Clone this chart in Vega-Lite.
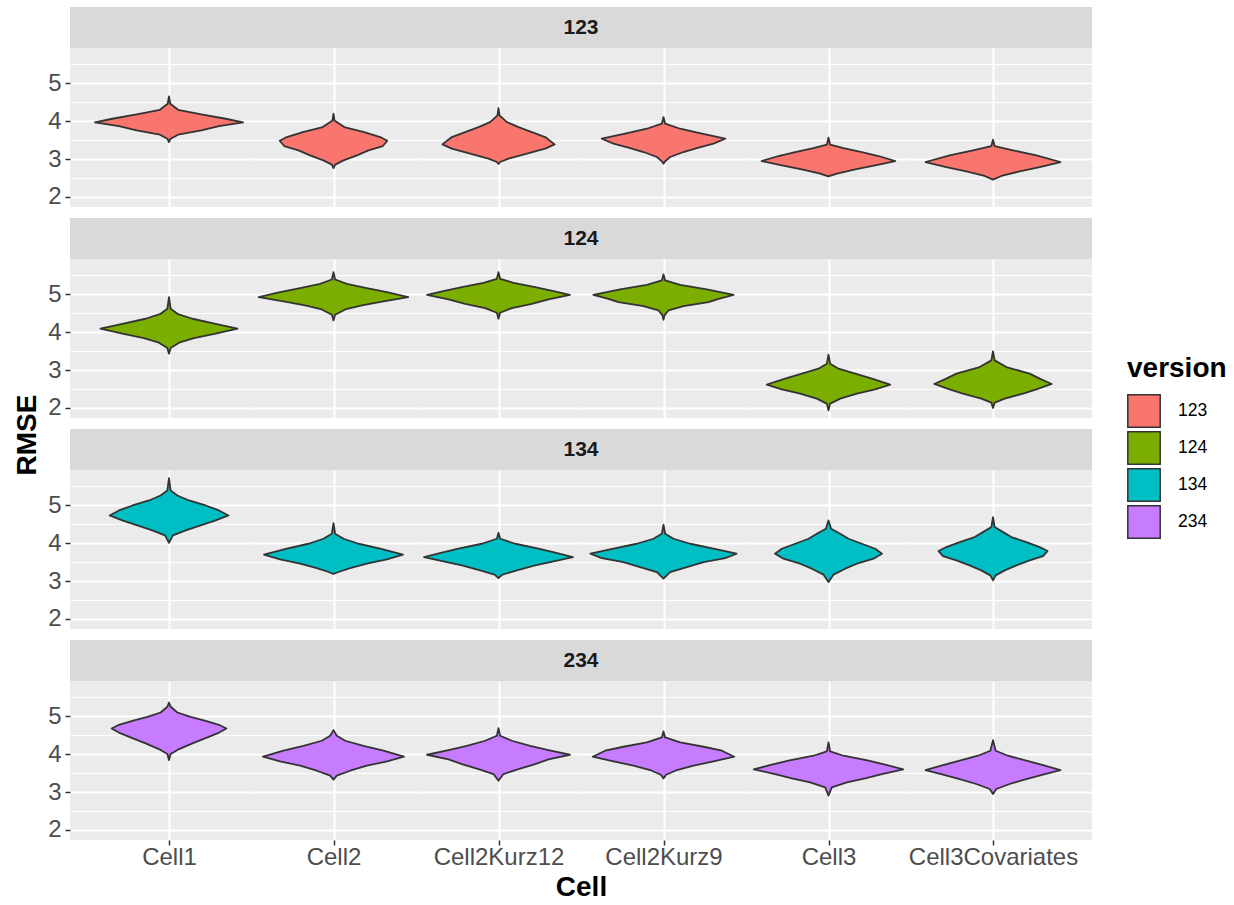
{
"$schema": "https://vega.github.io/schema/vega-lite/v6.json",
"background": "white",
"padding": {"left": 13, "top": 7, "right": 0, "bottom": 0},
"title": {"text": "RMSE", "orient": "left", "anchor": "middle", "fontSize": 28, "fontWeight": "bold", "color": "black", "offset": 6, "dx": 19},
"datasets": {
"strips": [{"version":"123"},{"version":"124"},{"version":"134"},{"version":"234"}],
"violins": [
{"version":"123","Cell":"Cell1","RMSE":4.649,"lo":0,"hi":0},
{"version":"123","Cell":"Cell1","RMSE":4.456,"lo":-0.008,"hi":0.008},
{"version":"123","Cell":"Cell1","RMSE":4.298,"lo":-0.055,"hi":0.055},
{"version":"123","Cell":"Cell1","RMSE":4.175,"lo":-0.196,"hi":0.196},
{"version":"123","Cell":"Cell1","RMSE":4.061,"lo":-0.344,"hi":0.344},
{"version":"123","Cell":"Cell1","RMSE":3.965,"lo":-0.449,"hi":0.449},
{"version":"123","Cell":"Cell1","RMSE":3.868,"lo":-0.303,"hi":0.303},
{"version":"123","Cell":"Cell1","RMSE":3.754,"lo":-0.196,"hi":0.196},
{"version":"123","Cell":"Cell1","RMSE":3.640,"lo":-0.055,"hi":0.055},
{"version":"123","Cell":"Cell1","RMSE":3.535,"lo":-0.010,"hi":0.010},
{"version":"123","Cell":"Cell1","RMSE":3.447,"lo":0,"hi":0},
{"version":"123","Cell":"Cell2","RMSE":4.193,"lo":0,"hi":0},
{"version":"123","Cell":"Cell2","RMSE":4.018,"lo":-0.006,"hi":0.006},
{"version":"123","Cell":"Cell2","RMSE":3.842,"lo":-0.065,"hi":0.065},
{"version":"123","Cell":"Cell2","RMSE":3.711,"lo":-0.186,"hi":0.186},
{"version":"123","Cell":"Cell2","RMSE":3.579,"lo":-0.283,"hi":0.283},
{"version":"123","Cell":"Cell2","RMSE":3.482,"lo":-0.326,"hi":0.326},
{"version":"123","Cell":"Cell2","RMSE":3.342,"lo":-0.299,"hi":0.299},
{"version":"123","Cell":"Cell2","RMSE":3.228,"lo":-0.212,"hi":0.212},
{"version":"123","Cell":"Cell2","RMSE":3.096,"lo":-0.142,"hi":0.142},
{"version":"123","Cell":"Cell2","RMSE":2.965,"lo":-0.061,"hi":0.061},
{"version":"123","Cell":"Cell2","RMSE":2.851,"lo":-0.010,"hi":0.010},
{"version":"123","Cell":"Cell2","RMSE":2.763,"lo":0,"hi":0},
{"version":"123","Cell":"Cell2Kurz12","RMSE":4.342,"lo":0,"hi":0},
{"version":"123","Cell":"Cell2Kurz12","RMSE":4.149,"lo":-0.006,"hi":0.006},
{"version":"123","Cell":"Cell2Kurz12","RMSE":3.974,"lo":-0.051,"hi":0.051},
{"version":"123","Cell":"Cell2Kurz12","RMSE":3.842,"lo":-0.121,"hi":0.121},
{"version":"123","Cell":"Cell2Kurz12","RMSE":3.711,"lo":-0.202,"hi":0.202},
{"version":"123","Cell":"Cell2Kurz12","RMSE":3.579,"lo":-0.283,"hi":0.283},
{"version":"123","Cell":"Cell2Kurz12","RMSE":3.386,"lo":-0.340,"hi":0.340},
{"version":"123","Cell":"Cell2Kurz12","RMSE":3.272,"lo":-0.283,"hi":0.283},
{"version":"123","Cell":"Cell2Kurz12","RMSE":3.140,"lo":-0.172,"hi":0.172},
{"version":"123","Cell":"Cell2Kurz12","RMSE":3.009,"lo":-0.061,"hi":0.061},
{"version":"123","Cell":"Cell2Kurz12","RMSE":2.921,"lo":-0.010,"hi":0.010},
{"version":"123","Cell":"Cell2Kurz12","RMSE":2.868,"lo":0,"hi":0},
{"version":"123","Cell":"Cell2Kurz9","RMSE":4.105,"lo":0,"hi":0},
{"version":"123","Cell":"Cell2Kurz9","RMSE":3.930,"lo":-0.010,"hi":0.010},
{"version":"123","Cell":"Cell2Kurz9","RMSE":3.798,"lo":-0.101,"hi":0.101},
{"version":"123","Cell":"Cell2Kurz9","RMSE":3.667,"lo":-0.233,"hi":0.233},
{"version":"123","Cell":"Cell2Kurz9","RMSE":3.535,"lo":-0.374,"hi":0.374},
{"version":"123","Cell":"Cell2Kurz9","RMSE":3.404,"lo":-0.303,"hi":0.303},
{"version":"123","Cell":"Cell2Kurz9","RMSE":3.289,"lo":-0.202,"hi":0.202},
{"version":"123","Cell":"Cell2Kurz9","RMSE":3.184,"lo":-0.121,"hi":0.121},
{"version":"123","Cell":"Cell2Kurz9","RMSE":3.053,"lo":-0.040,"hi":0.040},
{"version":"123","Cell":"Cell2Kurz9","RMSE":2.939,"lo":-0.010,"hi":0.010},
{"version":"123","Cell":"Cell2Kurz9","RMSE":2.877,"lo":0,"hi":0},
{"version":"123","Cell":"Cell3","RMSE":3.561,"lo":0,"hi":0},
{"version":"123","Cell":"Cell3","RMSE":3.377,"lo":-0.010,"hi":0.010},
{"version":"123","Cell":"Cell3","RMSE":3.289,"lo":-0.091,"hi":0.091},
{"version":"123","Cell":"Cell3","RMSE":3.184,"lo":-0.202,"hi":0.202},
{"version":"123","Cell":"Cell3","RMSE":3.079,"lo":-0.303,"hi":0.303},
{"version":"123","Cell":"Cell3","RMSE":2.947,"lo":-0.405,"hi":0.405},
{"version":"123","Cell":"Cell3","RMSE":2.833,"lo":-0.283,"hi":0.283},
{"version":"123","Cell":"Cell3","RMSE":2.728,"lo":-0.162,"hi":0.162},
{"version":"123","Cell":"Cell3","RMSE":2.614,"lo":-0.051,"hi":0.051},
{"version":"123","Cell":"Cell3","RMSE":2.544,"lo":0,"hi":0},
{"version":"123","Cell":"Cell3Covariates","RMSE":3.509,"lo":0,"hi":0},
{"version":"123","Cell":"Cell3Covariates","RMSE":3.342,"lo":-0.010,"hi":0.010},
{"version":"123","Cell":"Cell3Covariates","RMSE":3.228,"lo":-0.121,"hi":0.121},
{"version":"123","Cell":"Cell3Covariates","RMSE":3.096,"lo":-0.263,"hi":0.263},
{"version":"123","Cell":"Cell3Covariates","RMSE":2.921,"lo":-0.409,"hi":0.409},
{"version":"123","Cell":"Cell3Covariates","RMSE":2.789,"lo":-0.283,"hi":0.283},
{"version":"123","Cell":"Cell3Covariates","RMSE":2.675,"lo":-0.162,"hi":0.162},
{"version":"123","Cell":"Cell3Covariates","RMSE":2.553,"lo":-0.051,"hi":0.051},
{"version":"123","Cell":"Cell3Covariates","RMSE":2.456,"lo":0,"hi":0},
{"version":"124","Cell":"Cell1","RMSE":4.921,"lo":0,"hi":0},
{"version":"124","Cell":"Cell1","RMSE":4.614,"lo":-0.010,"hi":0.010},
{"version":"124","Cell":"Cell1","RMSE":4.482,"lo":-0.051,"hi":0.051},
{"version":"124","Cell":"Cell1","RMSE":4.351,"lo":-0.142,"hi":0.142},
{"version":"124","Cell":"Cell1","RMSE":4.219,"lo":-0.283,"hi":0.283},
{"version":"124","Cell":"Cell1","RMSE":4.088,"lo":-0.415,"hi":0.415},
{"version":"124","Cell":"Cell1","RMSE":3.956,"lo":-0.283,"hi":0.283},
{"version":"124","Cell":"Cell1","RMSE":3.842,"lo":-0.152,"hi":0.152},
{"version":"124","Cell":"Cell1","RMSE":3.719,"lo":-0.061,"hi":0.061},
{"version":"124","Cell":"Cell1","RMSE":3.579,"lo":-0.010,"hi":0.010},
{"version":"124","Cell":"Cell1","RMSE":3.430,"lo":0,"hi":0},
{"version":"124","Cell":"Cell2","RMSE":5.579,"lo":0,"hi":0},
{"version":"124","Cell":"Cell2","RMSE":5.386,"lo":-0.010,"hi":0.010},
{"version":"124","Cell":"Cell2","RMSE":5.272,"lo":-0.081,"hi":0.081},
{"version":"124","Cell":"Cell2","RMSE":5.158,"lo":-0.202,"hi":0.202},
{"version":"124","Cell":"Cell2","RMSE":5.053,"lo":-0.324,"hi":0.324},
{"version":"124","Cell":"Cell2","RMSE":4.921,"lo":-0.453,"hi":0.453},
{"version":"124","Cell":"Cell2","RMSE":4.807,"lo":-0.303,"hi":0.303},
{"version":"124","Cell":"Cell2","RMSE":4.702,"lo":-0.172,"hi":0.172},
{"version":"124","Cell":"Cell2","RMSE":4.596,"lo":-0.071,"hi":0.071},
{"version":"124","Cell":"Cell2","RMSE":4.456,"lo":-0.010,"hi":0.010},
{"version":"124","Cell":"Cell2","RMSE":4.307,"lo":0,"hi":0},
{"version":"124","Cell":"Cell2Kurz12","RMSE":5.579,"lo":0,"hi":0},
{"version":"124","Cell":"Cell2Kurz12","RMSE":5.404,"lo":-0.010,"hi":0.010},
{"version":"124","Cell":"Cell2Kurz12","RMSE":5.298,"lo":-0.091,"hi":0.091},
{"version":"124","Cell":"Cell2Kurz12","RMSE":5.184,"lo":-0.222,"hi":0.222},
{"version":"124","Cell":"Cell2Kurz12","RMSE":5.079,"lo":-0.334,"hi":0.334},
{"version":"124","Cell":"Cell2Kurz12","RMSE":4.982,"lo":-0.433,"hi":0.433},
{"version":"124","Cell":"Cell2Kurz12","RMSE":4.860,"lo":-0.303,"hi":0.303},
{"version":"124","Cell":"Cell2Kurz12","RMSE":4.746,"lo":-0.202,"hi":0.202},
{"version":"124","Cell":"Cell2Kurz12","RMSE":4.632,"lo":-0.081,"hi":0.081},
{"version":"124","Cell":"Cell2Kurz12","RMSE":4.509,"lo":-0.010,"hi":0.010},
{"version":"124","Cell":"Cell2Kurz12","RMSE":4.351,"lo":0,"hi":0},
{"version":"124","Cell":"Cell2Kurz9","RMSE":5.518,"lo":0,"hi":0},
{"version":"124","Cell":"Cell2Kurz9","RMSE":5.360,"lo":-0.010,"hi":0.010},
{"version":"124","Cell":"Cell2Kurz9","RMSE":5.246,"lo":-0.101,"hi":0.101},
{"version":"124","Cell":"Cell2Kurz9","RMSE":5.123,"lo":-0.263,"hi":0.263},
{"version":"124","Cell":"Cell2Kurz9","RMSE":4.982,"lo":-0.425,"hi":0.425},
{"version":"124","Cell":"Cell2Kurz9","RMSE":4.877,"lo":-0.334,"hi":0.334},
{"version":"124","Cell":"Cell2Kurz9","RMSE":4.789,"lo":-0.273,"hi":0.273},
{"version":"124","Cell":"Cell2Kurz9","RMSE":4.684,"lo":-0.121,"hi":0.121},
{"version":"124","Cell":"Cell2Kurz9","RMSE":4.570,"lo":-0.030,"hi":0.030},
{"version":"124","Cell":"Cell2Kurz9","RMSE":4.439,"lo":-0.006,"hi":0.006},
{"version":"124","Cell":"Cell2Kurz9","RMSE":4.325,"lo":0,"hi":0},
{"version":"124","Cell":"Cell3","RMSE":3.404,"lo":0,"hi":0},
{"version":"124","Cell":"Cell3","RMSE":3.167,"lo":-0.010,"hi":0.010},
{"version":"124","Cell":"Cell3","RMSE":3.035,"lo":-0.061,"hi":0.061},
{"version":"124","Cell":"Cell3","RMSE":2.904,"lo":-0.162,"hi":0.162},
{"version":"124","Cell":"Cell3","RMSE":2.772,"lo":-0.263,"hi":0.263},
{"version":"124","Cell":"Cell3","RMSE":2.614,"lo":-0.374,"hi":0.374},
{"version":"124","Cell":"Cell3","RMSE":2.491,"lo":-0.283,"hi":0.283},
{"version":"124","Cell":"Cell3","RMSE":2.377,"lo":-0.172,"hi":0.172},
{"version":"124","Cell":"Cell3","RMSE":2.246,"lo":-0.071,"hi":0.071},
{"version":"124","Cell":"Cell3","RMSE":2.114,"lo":-0.010,"hi":0.010},
{"version":"124","Cell":"Cell3","RMSE":1.939,"lo":0,"hi":0},
{"version":"124","Cell":"Cell3Covariates","RMSE":3.491,"lo":0,"hi":0},
{"version":"124","Cell":"Cell3Covariates","RMSE":3.254,"lo":-0.010,"hi":0.010},
{"version":"124","Cell":"Cell3Covariates","RMSE":3.079,"lo":-0.081,"hi":0.081},
{"version":"124","Cell":"Cell3Covariates","RMSE":2.904,"lo":-0.222,"hi":0.222},
{"version":"124","Cell":"Cell3Covariates","RMSE":2.772,"lo":-0.283,"hi":0.283},
{"version":"124","Cell":"Cell3Covariates","RMSE":2.632,"lo":-0.356,"hi":0.356},
{"version":"124","Cell":"Cell3Covariates","RMSE":2.491,"lo":-0.263,"hi":0.263},
{"version":"124","Cell":"Cell3Covariates","RMSE":2.377,"lo":-0.182,"hi":0.182},
{"version":"124","Cell":"Cell3Covariates","RMSE":2.246,"lo":-0.071,"hi":0.071},
{"version":"124","Cell":"Cell3Covariates","RMSE":2.140,"lo":-0.010,"hi":0.010},
{"version":"124","Cell":"Cell3Covariates","RMSE":2.000,"lo":0,"hi":0},
{"version":"134","Cell":"Cell1","RMSE":5.711,"lo":0,"hi":0},
{"version":"134","Cell":"Cell1","RMSE":5.386,"lo":-0.010,"hi":0.010},
{"version":"134","Cell":"Cell1","RMSE":5.254,"lo":-0.051,"hi":0.051},
{"version":"134","Cell":"Cell1","RMSE":5.123,"lo":-0.121,"hi":0.121},
{"version":"134","Cell":"Cell1","RMSE":4.991,"lo":-0.222,"hi":0.222},
{"version":"134","Cell":"Cell1","RMSE":4.860,"lo":-0.303,"hi":0.303},
{"version":"134","Cell":"Cell1","RMSE":4.728,"lo":-0.360,"hi":0.360},
{"version":"134","Cell":"Cell1","RMSE":4.596,"lo":-0.283,"hi":0.283},
{"version":"134","Cell":"Cell1","RMSE":4.465,"lo":-0.192,"hi":0.192},
{"version":"134","Cell":"Cell1","RMSE":4.333,"lo":-0.101,"hi":0.101},
{"version":"134","Cell":"Cell1","RMSE":4.202,"lo":-0.024,"hi":0.024},
{"version":"134","Cell":"Cell1","RMSE":4.009,"lo":0,"hi":0},
{"version":"134","Cell":"Cell2","RMSE":4.526,"lo":0,"hi":0},
{"version":"134","Cell":"Cell2","RMSE":4.246,"lo":-0.010,"hi":0.010},
{"version":"134","Cell":"Cell2","RMSE":4.114,"lo":-0.061,"hi":0.061},
{"version":"134","Cell":"Cell2","RMSE":3.982,"lo":-0.152,"hi":0.152},
{"version":"134","Cell":"Cell2","RMSE":3.851,"lo":-0.283,"hi":0.283},
{"version":"134","Cell":"Cell2","RMSE":3.693,"lo":-0.421,"hi":0.421},
{"version":"134","Cell":"Cell2","RMSE":3.570,"lo":-0.324,"hi":0.324},
{"version":"134","Cell":"Cell2","RMSE":3.456,"lo":-0.202,"hi":0.202},
{"version":"134","Cell":"Cell2","RMSE":3.342,"lo":-0.101,"hi":0.101},
{"version":"134","Cell":"Cell2","RMSE":3.237,"lo":-0.030,"hi":0.030},
{"version":"134","Cell":"Cell2","RMSE":3.184,"lo":0,"hi":0},
{"version":"134","Cell":"Cell2Kurz12","RMSE":4.272,"lo":0,"hi":0},
{"version":"134","Cell":"Cell2Kurz12","RMSE":4.114,"lo":-0.010,"hi":0.010},
{"version":"134","Cell":"Cell2Kurz12","RMSE":3.982,"lo":-0.101,"hi":0.101},
{"version":"134","Cell":"Cell2Kurz12","RMSE":3.851,"lo":-0.243,"hi":0.243},
{"version":"134","Cell":"Cell2Kurz12","RMSE":3.746,"lo":-0.344,"hi":0.344},
{"version":"134","Cell":"Cell2Kurz12","RMSE":3.632,"lo":-0.451,"hi":0.451},
{"version":"134","Cell":"Cell2Kurz12","RMSE":3.518,"lo":-0.334,"hi":0.334},
{"version":"134","Cell":"Cell2Kurz12","RMSE":3.412,"lo":-0.222,"hi":0.222},
{"version":"134","Cell":"Cell2Kurz12","RMSE":3.281,"lo":-0.111,"hi":0.111},
{"version":"134","Cell":"Cell2Kurz12","RMSE":3.167,"lo":-0.024,"hi":0.024},
{"version":"134","Cell":"Cell2Kurz12","RMSE":3.079,"lo":0,"hi":0},
{"version":"134","Cell":"Cell2Kurz9","RMSE":4.482,"lo":0,"hi":0},
{"version":"134","Cell":"Cell2Kurz9","RMSE":4.246,"lo":-0.010,"hi":0.010},
{"version":"134","Cell":"Cell2Kurz9","RMSE":4.114,"lo":-0.061,"hi":0.061},
{"version":"134","Cell":"Cell2Kurz9","RMSE":3.982,"lo":-0.162,"hi":0.162},
{"version":"134","Cell":"Cell2Kurz9","RMSE":3.851,"lo":-0.303,"hi":0.303},
{"version":"134","Cell":"Cell2Kurz9","RMSE":3.719,"lo":-0.443,"hi":0.443},
{"version":"134","Cell":"Cell2Kurz9","RMSE":3.605,"lo":-0.374,"hi":0.374},
{"version":"134","Cell":"Cell2Kurz9","RMSE":3.500,"lo":-0.243,"hi":0.243},
{"version":"134","Cell":"Cell2Kurz9","RMSE":3.368,"lo":-0.142,"hi":0.142},
{"version":"134","Cell":"Cell2Kurz9","RMSE":3.237,"lo":-0.040,"hi":0.040},
{"version":"134","Cell":"Cell2Kurz9","RMSE":3.061,"lo":0,"hi":0},
{"version":"134","Cell":"Cell3","RMSE":4.596,"lo":0,"hi":0},
{"version":"134","Cell":"Cell3","RMSE":4.377,"lo":-0.016,"hi":0.016},
{"version":"134","Cell":"Cell3","RMSE":4.246,"lo":-0.071,"hi":0.071},
{"version":"134","Cell":"Cell3","RMSE":4.114,"lo":-0.121,"hi":0.121},
{"version":"134","Cell":"Cell3","RMSE":3.982,"lo":-0.202,"hi":0.202},
{"version":"134","Cell":"Cell3","RMSE":3.851,"lo":-0.283,"hi":0.283},
{"version":"134","Cell":"Cell3","RMSE":3.719,"lo":-0.324,"hi":0.324},
{"version":"134","Cell":"Cell3","RMSE":3.588,"lo":-0.273,"hi":0.273},
{"version":"134","Cell":"Cell3","RMSE":3.456,"lo":-0.172,"hi":0.172},
{"version":"134","Cell":"Cell3","RMSE":3.325,"lo":-0.101,"hi":0.101},
{"version":"134","Cell":"Cell3","RMSE":3.167,"lo":-0.030,"hi":0.030},
{"version":"134","Cell":"Cell3","RMSE":2.974,"lo":0,"hi":0},
{"version":"134","Cell":"Cell3Covariates","RMSE":4.684,"lo":0,"hi":0},
{"version":"134","Cell":"Cell3Covariates","RMSE":4.421,"lo":-0.010,"hi":0.010},
{"version":"134","Cell":"Cell3Covariates","RMSE":4.289,"lo":-0.061,"hi":0.061},
{"version":"134","Cell":"Cell3Covariates","RMSE":4.158,"lo":-0.111,"hi":0.111},
{"version":"134","Cell":"Cell3Covariates","RMSE":4.026,"lo":-0.202,"hi":0.202},
{"version":"134","Cell":"Cell3Covariates","RMSE":3.895,"lo":-0.283,"hi":0.283},
{"version":"134","Cell":"Cell3Covariates","RMSE":3.789,"lo":-0.330,"hi":0.330},
{"version":"134","Cell":"Cell3Covariates","RMSE":3.658,"lo":-0.303,"hi":0.303},
{"version":"134","Cell":"Cell3Covariates","RMSE":3.544,"lo":-0.222,"hi":0.222},
{"version":"134","Cell":"Cell3Covariates","RMSE":3.412,"lo":-0.142,"hi":0.142},
{"version":"134","Cell":"Cell3Covariates","RMSE":3.281,"lo":-0.071,"hi":0.071},
{"version":"134","Cell":"Cell3Covariates","RMSE":3.149,"lo":-0.016,"hi":0.016},
{"version":"134","Cell":"Cell3Covariates","RMSE":3.018,"lo":0,"hi":0},
{"version":"234","Cell":"Cell1","RMSE":5.360,"lo":0,"hi":0},
{"version":"234","Cell":"Cell1","RMSE":5.246,"lo":-0.010,"hi":0.010},
{"version":"234","Cell":"Cell1","RMSE":5.096,"lo":-0.051,"hi":0.051},
{"version":"234","Cell":"Cell1","RMSE":4.982,"lo":-0.131,"hi":0.131},
{"version":"234","Cell":"Cell1","RMSE":4.877,"lo":-0.222,"hi":0.222},
{"version":"234","Cell":"Cell1","RMSE":4.772,"lo":-0.303,"hi":0.303},
{"version":"234","Cell":"Cell1","RMSE":4.675,"lo":-0.348,"hi":0.348},
{"version":"234","Cell":"Cell1","RMSE":4.544,"lo":-0.293,"hi":0.293},
{"version":"234","Cell":"Cell1","RMSE":4.421,"lo":-0.222,"hi":0.222},
{"version":"234","Cell":"Cell1","RMSE":4.281,"lo":-0.142,"hi":0.142},
{"version":"234","Cell":"Cell1","RMSE":4.132,"lo":-0.061,"hi":0.061},
{"version":"234","Cell":"Cell1","RMSE":4.000,"lo":-0.010,"hi":0.010},
{"version":"234","Cell":"Cell1","RMSE":3.842,"lo":0,"hi":0},
{"version":"234","Cell":"Cell2","RMSE":4.632,"lo":0,"hi":0},
{"version":"234","Cell":"Cell2","RMSE":4.482,"lo":-0.020,"hi":0.020},
{"version":"234","Cell":"Cell2","RMSE":4.351,"lo":-0.071,"hi":0.071},
{"version":"234","Cell":"Cell2","RMSE":4.219,"lo":-0.182,"hi":0.182},
{"version":"234","Cell":"Cell2","RMSE":4.088,"lo":-0.303,"hi":0.303},
{"version":"234","Cell":"Cell2","RMSE":3.930,"lo":-0.427,"hi":0.427},
{"version":"234","Cell":"Cell2","RMSE":3.807,"lo":-0.324,"hi":0.324},
{"version":"234","Cell":"Cell2","RMSE":3.693,"lo":-0.202,"hi":0.202},
{"version":"234","Cell":"Cell2","RMSE":3.561,"lo":-0.101,"hi":0.101},
{"version":"234","Cell":"Cell2","RMSE":3.430,"lo":-0.020,"hi":0.020},
{"version":"234","Cell":"Cell2","RMSE":3.325,"lo":0,"hi":0},
{"version":"234","Cell":"Cell2Kurz12","RMSE":4.684,"lo":0,"hi":0},
{"version":"234","Cell":"Cell2Kurz12","RMSE":4.482,"lo":-0.010,"hi":0.010},
{"version":"234","Cell":"Cell2Kurz12","RMSE":4.351,"lo":-0.081,"hi":0.081},
{"version":"234","Cell":"Cell2Kurz12","RMSE":4.219,"lo":-0.192,"hi":0.192},
{"version":"234","Cell":"Cell2Kurz12","RMSE":4.105,"lo":-0.303,"hi":0.303},
{"version":"234","Cell":"Cell2Kurz12","RMSE":3.982,"lo":-0.433,"hi":0.433},
{"version":"234","Cell":"Cell2Kurz12","RMSE":3.860,"lo":-0.303,"hi":0.303},
{"version":"234","Cell":"Cell2Kurz12","RMSE":3.737,"lo":-0.222,"hi":0.222},
{"version":"234","Cell":"Cell2Kurz12","RMSE":3.605,"lo":-0.121,"hi":0.121},
{"version":"234","Cell":"Cell2Kurz12","RMSE":3.474,"lo":-0.030,"hi":0.030},
{"version":"234","Cell":"Cell2Kurz12","RMSE":3.298,"lo":0,"hi":0},
{"version":"234","Cell":"Cell2Kurz9","RMSE":4.596,"lo":0,"hi":0},
{"version":"234","Cell":"Cell2Kurz9","RMSE":4.439,"lo":-0.010,"hi":0.010},
{"version":"234","Cell":"Cell2Kurz9","RMSE":4.307,"lo":-0.101,"hi":0.101},
{"version":"234","Cell":"Cell2Kurz9","RMSE":4.193,"lo":-0.243,"hi":0.243},
{"version":"234","Cell":"Cell2Kurz9","RMSE":4.088,"lo":-0.354,"hi":0.354},
{"version":"234","Cell":"Cell2Kurz9","RMSE":3.930,"lo":-0.429,"hi":0.429},
{"version":"234","Cell":"Cell2Kurz9","RMSE":3.807,"lo":-0.303,"hi":0.303},
{"version":"234","Cell":"Cell2Kurz9","RMSE":3.693,"lo":-0.182,"hi":0.182},
{"version":"234","Cell":"Cell2Kurz9","RMSE":3.579,"lo":-0.081,"hi":0.081},
{"version":"234","Cell":"Cell2Kurz9","RMSE":3.456,"lo":-0.016,"hi":0.016},
{"version":"234","Cell":"Cell2Kurz9","RMSE":3.360,"lo":0,"hi":0},
{"version":"234","Cell":"Cell3","RMSE":4.307,"lo":0,"hi":0},
{"version":"234","Cell":"Cell3","RMSE":4.070,"lo":-0.010,"hi":0.010},
{"version":"234","Cell":"Cell3","RMSE":3.956,"lo":-0.091,"hi":0.091},
{"version":"234","Cell":"Cell3","RMSE":3.825,"lo":-0.243,"hi":0.243},
{"version":"234","Cell":"Cell3","RMSE":3.719,"lo":-0.344,"hi":0.344},
{"version":"234","Cell":"Cell3","RMSE":3.596,"lo":-0.453,"hi":0.453},
{"version":"234","Cell":"Cell3","RMSE":3.474,"lo":-0.324,"hi":0.324},
{"version":"234","Cell":"Cell3","RMSE":3.360,"lo":-0.222,"hi":0.222},
{"version":"234","Cell":"Cell3","RMSE":3.254,"lo":-0.111,"hi":0.111},
{"version":"234","Cell":"Cell3","RMSE":3.123,"lo":-0.020,"hi":0.020},
{"version":"234","Cell":"Cell3","RMSE":2.904,"lo":0,"hi":0},
{"version":"234","Cell":"Cell3Covariates","RMSE":4.368,"lo":0,"hi":0},
{"version":"234","Cell":"Cell3Covariates","RMSE":4.088,"lo":-0.016,"hi":0.016},
{"version":"234","Cell":"Cell3Covariates","RMSE":3.956,"lo":-0.091,"hi":0.091},
{"version":"234","Cell":"Cell3Covariates","RMSE":3.825,"lo":-0.202,"hi":0.202},
{"version":"234","Cell":"Cell3Covariates","RMSE":3.711,"lo":-0.303,"hi":0.303},
{"version":"234","Cell":"Cell3Covariates","RMSE":3.579,"lo":-0.409,"hi":0.409},
{"version":"234","Cell":"Cell3Covariates","RMSE":3.456,"lo":-0.303,"hi":0.303},
{"version":"234","Cell":"Cell3Covariates","RMSE":3.342,"lo":-0.202,"hi":0.202},
{"version":"234","Cell":"Cell3Covariates","RMSE":3.211,"lo":-0.101,"hi":0.101},
{"version":"234","Cell":"Cell3Covariates","RMSE":3.079,"lo":-0.020,"hi":0.020},
{"version":"234","Cell":"Cell3Covariates","RMSE":2.947,"lo":0,"hi":0}
]},
"data": {"name": "violins"},
"spacing": 9,
"vconcat": [
{"spacing": 0, "vconcat": [
 {"width": 1022, "height": 41, "data": {"name": "strips"}, "transform": [{"filter": "datum.version === '123'"}], "mark": {"type": "text", "fontSize": 21, "fontWeight": "bold", "color": "#1A1A1A"}, "encoding": {"text": {"field": "version", "type": "nominal"}}, "view": {"fill": "#D9D9D9", "stroke": null}},
 {"spacing": 0, "bounds": "flush", "hconcat": [
  {"width": 181, "height": 159, "transform": [{"filter": "datum.version === '123' && datum.Cell === 'Cell1'"}], "mark": {"type": "area", "orient": "horizontal", "stroke": "#333333", "strokeWidth": 1.8, "strokeJoin": "round"}, "encoding": {"y": {"field": "RMSE", "type": "quantitative", "scale": {"domain": [1.735, 5.926], "nice": false, "zero": false}, "axis": {"values": [2,2.5,3,3.5,4,4.5,5,5.5], "title": null, "format": ".0f", "labelExpr": "datum.value % 1 === 0 ? datum.label : ''", "labelPadding": 4, "tickOpacity": {"condition": {"test": "datum.value % 1 !== 0", "value": 0}, "value": 1}, "gridWidth": {"condition": {"test": "datum.value % 1 !== 0", "value": 1}, "value": 2}}}, "x": {"field": "lo", "type": "quantitative", "stack": null, "scale": {"domain": [-0.6, 0.497], "nice": false, "zero": false}, "axis": {"values": [0], "title": null, "labels": false, "ticks": false, "gridWidth": 2}}, "x2": {"field": "hi"}, "color": {"field": "version", "type": "nominal", "scale": {"domain": ["123","124","134","234"], "range": ["#F8766D","#7CAE00","#00BFC4","#C77CFF"]}, "title": "version"}}},
  {"width": 165, "height": 159, "transform": [{"filter": "datum.version === '123' && datum.Cell === 'Cell2'"}], "mark": {"type": "area", "orient": "horizontal", "stroke": "#333333", "strokeWidth": 1.8, "strokeJoin": "round"}, "encoding": {"y": {"field": "RMSE", "type": "quantitative", "scale": {"domain": [1.735, 5.926], "nice": false, "zero": false}, "axis": {"values": [2,2.5,3,3.5,4,4.5,5,5.5], "title": null, "labels": false, "ticks": false, "gridWidth": {"condition": {"test": "datum.value % 1 !== 0", "value": 1}, "value": 2}}}, "x": {"field": "lo", "type": "quantitative", "stack": null, "scale": {"domain": [-0.5, 0.5], "nice": false, "zero": false}, "axis": {"values": [0], "title": null, "labels": false, "ticks": false, "gridWidth": 2}}, "x2": {"field": "hi"}, "color": {"field": "version", "type": "nominal", "scale": {"domain": ["123","124","134","234"], "range": ["#F8766D","#7CAE00","#00BFC4","#C77CFF"]}, "title": "version"}}},
  {"width": 165, "height": 159, "transform": [{"filter": "datum.version === '123' && datum.Cell === 'Cell2Kurz12'"}], "mark": {"type": "area", "orient": "horizontal", "stroke": "#333333", "strokeWidth": 1.8, "strokeJoin": "round"}, "encoding": {"y": {"field": "RMSE", "type": "quantitative", "scale": {"domain": [1.735, 5.926], "nice": false, "zero": false}, "axis": {"values": [2,2.5,3,3.5,4,4.5,5,5.5], "title": null, "labels": false, "ticks": false, "gridWidth": {"condition": {"test": "datum.value % 1 !== 0", "value": 1}, "value": 2}}}, "x": {"field": "lo", "type": "quantitative", "stack": null, "scale": {"domain": [-0.5, 0.5], "nice": false, "zero": false}, "axis": {"values": [0], "title": null, "labels": false, "ticks": false, "gridWidth": 2}}, "x2": {"field": "hi"}, "color": {"field": "version", "type": "nominal", "scale": {"domain": ["123","124","134","234"], "range": ["#F8766D","#7CAE00","#00BFC4","#C77CFF"]}, "title": "version"}}},
  {"width": 165, "height": 159, "transform": [{"filter": "datum.version === '123' && datum.Cell === 'Cell2Kurz9'"}], "mark": {"type": "area", "orient": "horizontal", "stroke": "#333333", "strokeWidth": 1.8, "strokeJoin": "round"}, "encoding": {"y": {"field": "RMSE", "type": "quantitative", "scale": {"domain": [1.735, 5.926], "nice": false, "zero": false}, "axis": {"values": [2,2.5,3,3.5,4,4.5,5,5.5], "title": null, "labels": false, "ticks": false, "gridWidth": {"condition": {"test": "datum.value % 1 !== 0", "value": 1}, "value": 2}}}, "x": {"field": "lo", "type": "quantitative", "stack": null, "scale": {"domain": [-0.5, 0.5], "nice": false, "zero": false}, "axis": {"values": [0], "title": null, "labels": false, "ticks": false, "gridWidth": 2}}, "x2": {"field": "hi"}, "color": {"field": "version", "type": "nominal", "scale": {"domain": ["123","124","134","234"], "range": ["#F8766D","#7CAE00","#00BFC4","#C77CFF"]}, "title": "version"}}},
  {"width": 165, "height": 159, "transform": [{"filter": "datum.version === '123' && datum.Cell === 'Cell3'"}], "mark": {"type": "area", "orient": "horizontal", "stroke": "#333333", "strokeWidth": 1.8, "strokeJoin": "round"}, "encoding": {"y": {"field": "RMSE", "type": "quantitative", "scale": {"domain": [1.735, 5.926], "nice": false, "zero": false}, "axis": {"values": [2,2.5,3,3.5,4,4.5,5,5.5], "title": null, "labels": false, "ticks": false, "gridWidth": {"condition": {"test": "datum.value % 1 !== 0", "value": 1}, "value": 2}}}, "x": {"field": "lo", "type": "quantitative", "stack": null, "scale": {"domain": [-0.5, 0.5], "nice": false, "zero": false}, "axis": {"values": [0], "title": null, "labels": false, "ticks": false, "gridWidth": 2}}, "x2": {"field": "hi"}, "color": {"field": "version", "type": "nominal", "scale": {"domain": ["123","124","134","234"], "range": ["#F8766D","#7CAE00","#00BFC4","#C77CFF"]}, "title": "version"}}},
  {"width": 181, "height": 159, "transform": [{"filter": "datum.version === '123' && datum.Cell === 'Cell3Covariates'"}], "mark": {"type": "area", "orient": "horizontal", "stroke": "#333333", "strokeWidth": 1.8, "strokeJoin": "round"}, "encoding": {"y": {"field": "RMSE", "type": "quantitative", "scale": {"domain": [1.735, 5.926], "nice": false, "zero": false}, "axis": {"values": [2,2.5,3,3.5,4,4.5,5,5.5], "title": null, "labels": false, "ticks": false, "gridWidth": {"condition": {"test": "datum.value % 1 !== 0", "value": 1}, "value": 2}}}, "x": {"field": "lo", "type": "quantitative", "stack": null, "scale": {"domain": [-0.497, 0.6], "nice": false, "zero": false}, "axis": {"values": [0], "title": null, "labels": false, "ticks": false, "gridWidth": 2}}, "x2": {"field": "hi"}, "color": {"field": "version", "type": "nominal", "scale": {"domain": ["123","124","134","234"], "range": ["#F8766D","#7CAE00","#00BFC4","#C77CFF"]}, "title": "version"}}}
 ]}
]},
{"spacing": 0, "vconcat": [
 {"width": 1022, "height": 41, "data": {"name": "strips"}, "transform": [{"filter": "datum.version === '124'"}], "mark": {"type": "text", "fontSize": 21, "fontWeight": "bold", "color": "#1A1A1A"}, "encoding": {"text": {"field": "version", "type": "nominal"}}, "view": {"fill": "#D9D9D9", "stroke": null}},
 {"spacing": 0, "bounds": "flush", "hconcat": [
  {"width": 181, "height": 159, "transform": [{"filter": "datum.version === '124' && datum.Cell === 'Cell1'"}], "mark": {"type": "area", "orient": "horizontal", "stroke": "#333333", "strokeWidth": 1.8, "strokeJoin": "round"}, "encoding": {"y": {"field": "RMSE", "type": "quantitative", "scale": {"domain": [1.735, 5.926], "nice": false, "zero": false}, "axis": {"values": [2,2.5,3,3.5,4,4.5,5,5.5], "title": null, "format": ".0f", "labelExpr": "datum.value % 1 === 0 ? datum.label : ''", "labelPadding": 4, "tickOpacity": {"condition": {"test": "datum.value % 1 !== 0", "value": 0}, "value": 1}, "gridWidth": {"condition": {"test": "datum.value % 1 !== 0", "value": 1}, "value": 2}}}, "x": {"field": "lo", "type": "quantitative", "stack": null, "scale": {"domain": [-0.6, 0.497], "nice": false, "zero": false}, "axis": {"values": [0], "title": null, "labels": false, "ticks": false, "gridWidth": 2}}, "x2": {"field": "hi"}, "color": {"field": "version", "type": "nominal", "scale": {"domain": ["123","124","134","234"], "range": ["#F8766D","#7CAE00","#00BFC4","#C77CFF"]}, "title": "version"}}},
  {"width": 165, "height": 159, "transform": [{"filter": "datum.version === '124' && datum.Cell === 'Cell2'"}], "mark": {"type": "area", "orient": "horizontal", "stroke": "#333333", "strokeWidth": 1.8, "strokeJoin": "round"}, "encoding": {"y": {"field": "RMSE", "type": "quantitative", "scale": {"domain": [1.735, 5.926], "nice": false, "zero": false}, "axis": {"values": [2,2.5,3,3.5,4,4.5,5,5.5], "title": null, "labels": false, "ticks": false, "gridWidth": {"condition": {"test": "datum.value % 1 !== 0", "value": 1}, "value": 2}}}, "x": {"field": "lo", "type": "quantitative", "stack": null, "scale": {"domain": [-0.5, 0.5], "nice": false, "zero": false}, "axis": {"values": [0], "title": null, "labels": false, "ticks": false, "gridWidth": 2}}, "x2": {"field": "hi"}, "color": {"field": "version", "type": "nominal", "scale": {"domain": ["123","124","134","234"], "range": ["#F8766D","#7CAE00","#00BFC4","#C77CFF"]}, "title": "version"}}},
  {"width": 165, "height": 159, "transform": [{"filter": "datum.version === '124' && datum.Cell === 'Cell2Kurz12'"}], "mark": {"type": "area", "orient": "horizontal", "stroke": "#333333", "strokeWidth": 1.8, "strokeJoin": "round"}, "encoding": {"y": {"field": "RMSE", "type": "quantitative", "scale": {"domain": [1.735, 5.926], "nice": false, "zero": false}, "axis": {"values": [2,2.5,3,3.5,4,4.5,5,5.5], "title": null, "labels": false, "ticks": false, "gridWidth": {"condition": {"test": "datum.value % 1 !== 0", "value": 1}, "value": 2}}}, "x": {"field": "lo", "type": "quantitative", "stack": null, "scale": {"domain": [-0.5, 0.5], "nice": false, "zero": false}, "axis": {"values": [0], "title": null, "labels": false, "ticks": false, "gridWidth": 2}}, "x2": {"field": "hi"}, "color": {"field": "version", "type": "nominal", "scale": {"domain": ["123","124","134","234"], "range": ["#F8766D","#7CAE00","#00BFC4","#C77CFF"]}, "title": "version"}}},
  {"width": 165, "height": 159, "transform": [{"filter": "datum.version === '124' && datum.Cell === 'Cell2Kurz9'"}], "mark": {"type": "area", "orient": "horizontal", "stroke": "#333333", "strokeWidth": 1.8, "strokeJoin": "round"}, "encoding": {"y": {"field": "RMSE", "type": "quantitative", "scale": {"domain": [1.735, 5.926], "nice": false, "zero": false}, "axis": {"values": [2,2.5,3,3.5,4,4.5,5,5.5], "title": null, "labels": false, "ticks": false, "gridWidth": {"condition": {"test": "datum.value % 1 !== 0", "value": 1}, "value": 2}}}, "x": {"field": "lo", "type": "quantitative", "stack": null, "scale": {"domain": [-0.5, 0.5], "nice": false, "zero": false}, "axis": {"values": [0], "title": null, "labels": false, "ticks": false, "gridWidth": 2}}, "x2": {"field": "hi"}, "color": {"field": "version", "type": "nominal", "scale": {"domain": ["123","124","134","234"], "range": ["#F8766D","#7CAE00","#00BFC4","#C77CFF"]}, "title": "version"}}},
  {"width": 165, "height": 159, "transform": [{"filter": "datum.version === '124' && datum.Cell === 'Cell3'"}], "mark": {"type": "area", "orient": "horizontal", "stroke": "#333333", "strokeWidth": 1.8, "strokeJoin": "round"}, "encoding": {"y": {"field": "RMSE", "type": "quantitative", "scale": {"domain": [1.735, 5.926], "nice": false, "zero": false}, "axis": {"values": [2,2.5,3,3.5,4,4.5,5,5.5], "title": null, "labels": false, "ticks": false, "gridWidth": {"condition": {"test": "datum.value % 1 !== 0", "value": 1}, "value": 2}}}, "x": {"field": "lo", "type": "quantitative", "stack": null, "scale": {"domain": [-0.5, 0.5], "nice": false, "zero": false}, "axis": {"values": [0], "title": null, "labels": false, "ticks": false, "gridWidth": 2}}, "x2": {"field": "hi"}, "color": {"field": "version", "type": "nominal", "scale": {"domain": ["123","124","134","234"], "range": ["#F8766D","#7CAE00","#00BFC4","#C77CFF"]}, "title": "version"}}},
  {"width": 181, "height": 159, "transform": [{"filter": "datum.version === '124' && datum.Cell === 'Cell3Covariates'"}], "mark": {"type": "area", "orient": "horizontal", "stroke": "#333333", "strokeWidth": 1.8, "strokeJoin": "round"}, "encoding": {"y": {"field": "RMSE", "type": "quantitative", "scale": {"domain": [1.735, 5.926], "nice": false, "zero": false}, "axis": {"values": [2,2.5,3,3.5,4,4.5,5,5.5], "title": null, "labels": false, "ticks": false, "gridWidth": {"condition": {"test": "datum.value % 1 !== 0", "value": 1}, "value": 2}}}, "x": {"field": "lo", "type": "quantitative", "stack": null, "scale": {"domain": [-0.497, 0.6], "nice": false, "zero": false}, "axis": {"values": [0], "title": null, "labels": false, "ticks": false, "gridWidth": 2}}, "x2": {"field": "hi"}, "color": {"field": "version", "type": "nominal", "scale": {"domain": ["123","124","134","234"], "range": ["#F8766D","#7CAE00","#00BFC4","#C77CFF"]}, "title": "version"}}}
 ]}
]},
{"spacing": 0, "vconcat": [
 {"width": 1022, "height": 41, "data": {"name": "strips"}, "transform": [{"filter": "datum.version === '134'"}], "mark": {"type": "text", "fontSize": 21, "fontWeight": "bold", "color": "#1A1A1A"}, "encoding": {"text": {"field": "version", "type": "nominal"}}, "view": {"fill": "#D9D9D9", "stroke": null}},
 {"spacing": 0, "bounds": "flush", "hconcat": [
  {"width": 181, "height": 159, "transform": [{"filter": "datum.version === '134' && datum.Cell === 'Cell1'"}], "mark": {"type": "area", "orient": "horizontal", "stroke": "#333333", "strokeWidth": 1.8, "strokeJoin": "round"}, "encoding": {"y": {"field": "RMSE", "type": "quantitative", "scale": {"domain": [1.735, 5.926], "nice": false, "zero": false}, "axis": {"values": [2,2.5,3,3.5,4,4.5,5,5.5], "title": null, "format": ".0f", "labelExpr": "datum.value % 1 === 0 ? datum.label : ''", "labelPadding": 4, "tickOpacity": {"condition": {"test": "datum.value % 1 !== 0", "value": 0}, "value": 1}, "gridWidth": {"condition": {"test": "datum.value % 1 !== 0", "value": 1}, "value": 2}}}, "x": {"field": "lo", "type": "quantitative", "stack": null, "scale": {"domain": [-0.6, 0.497], "nice": false, "zero": false}, "axis": {"values": [0], "title": null, "labels": false, "ticks": false, "gridWidth": 2}}, "x2": {"field": "hi"}, "color": {"field": "version", "type": "nominal", "scale": {"domain": ["123","124","134","234"], "range": ["#F8766D","#7CAE00","#00BFC4","#C77CFF"]}, "title": "version"}}},
  {"width": 165, "height": 159, "transform": [{"filter": "datum.version === '134' && datum.Cell === 'Cell2'"}], "mark": {"type": "area", "orient": "horizontal", "stroke": "#333333", "strokeWidth": 1.8, "strokeJoin": "round"}, "encoding": {"y": {"field": "RMSE", "type": "quantitative", "scale": {"domain": [1.735, 5.926], "nice": false, "zero": false}, "axis": {"values": [2,2.5,3,3.5,4,4.5,5,5.5], "title": null, "labels": false, "ticks": false, "gridWidth": {"condition": {"test": "datum.value % 1 !== 0", "value": 1}, "value": 2}}}, "x": {"field": "lo", "type": "quantitative", "stack": null, "scale": {"domain": [-0.5, 0.5], "nice": false, "zero": false}, "axis": {"values": [0], "title": null, "labels": false, "ticks": false, "gridWidth": 2}}, "x2": {"field": "hi"}, "color": {"field": "version", "type": "nominal", "scale": {"domain": ["123","124","134","234"], "range": ["#F8766D","#7CAE00","#00BFC4","#C77CFF"]}, "title": "version"}}},
  {"width": 165, "height": 159, "transform": [{"filter": "datum.version === '134' && datum.Cell === 'Cell2Kurz12'"}], "mark": {"type": "area", "orient": "horizontal", "stroke": "#333333", "strokeWidth": 1.8, "strokeJoin": "round"}, "encoding": {"y": {"field": "RMSE", "type": "quantitative", "scale": {"domain": [1.735, 5.926], "nice": false, "zero": false}, "axis": {"values": [2,2.5,3,3.5,4,4.5,5,5.5], "title": null, "labels": false, "ticks": false, "gridWidth": {"condition": {"test": "datum.value % 1 !== 0", "value": 1}, "value": 2}}}, "x": {"field": "lo", "type": "quantitative", "stack": null, "scale": {"domain": [-0.5, 0.5], "nice": false, "zero": false}, "axis": {"values": [0], "title": null, "labels": false, "ticks": false, "gridWidth": 2}}, "x2": {"field": "hi"}, "color": {"field": "version", "type": "nominal", "scale": {"domain": ["123","124","134","234"], "range": ["#F8766D","#7CAE00","#00BFC4","#C77CFF"]}, "title": "version"}}},
  {"width": 165, "height": 159, "transform": [{"filter": "datum.version === '134' && datum.Cell === 'Cell2Kurz9'"}], "mark": {"type": "area", "orient": "horizontal", "stroke": "#333333", "strokeWidth": 1.8, "strokeJoin": "round"}, "encoding": {"y": {"field": "RMSE", "type": "quantitative", "scale": {"domain": [1.735, 5.926], "nice": false, "zero": false}, "axis": {"values": [2,2.5,3,3.5,4,4.5,5,5.5], "title": null, "labels": false, "ticks": false, "gridWidth": {"condition": {"test": "datum.value % 1 !== 0", "value": 1}, "value": 2}}}, "x": {"field": "lo", "type": "quantitative", "stack": null, "scale": {"domain": [-0.5, 0.5], "nice": false, "zero": false}, "axis": {"values": [0], "title": null, "labels": false, "ticks": false, "gridWidth": 2}}, "x2": {"field": "hi"}, "color": {"field": "version", "type": "nominal", "scale": {"domain": ["123","124","134","234"], "range": ["#F8766D","#7CAE00","#00BFC4","#C77CFF"]}, "title": "version"}}},
  {"width": 165, "height": 159, "transform": [{"filter": "datum.version === '134' && datum.Cell === 'Cell3'"}], "mark": {"type": "area", "orient": "horizontal", "stroke": "#333333", "strokeWidth": 1.8, "strokeJoin": "round"}, "encoding": {"y": {"field": "RMSE", "type": "quantitative", "scale": {"domain": [1.735, 5.926], "nice": false, "zero": false}, "axis": {"values": [2,2.5,3,3.5,4,4.5,5,5.5], "title": null, "labels": false, "ticks": false, "gridWidth": {"condition": {"test": "datum.value % 1 !== 0", "value": 1}, "value": 2}}}, "x": {"field": "lo", "type": "quantitative", "stack": null, "scale": {"domain": [-0.5, 0.5], "nice": false, "zero": false}, "axis": {"values": [0], "title": null, "labels": false, "ticks": false, "gridWidth": 2}}, "x2": {"field": "hi"}, "color": {"field": "version", "type": "nominal", "scale": {"domain": ["123","124","134","234"], "range": ["#F8766D","#7CAE00","#00BFC4","#C77CFF"]}, "title": "version"}}},
  {"width": 181, "height": 159, "transform": [{"filter": "datum.version === '134' && datum.Cell === 'Cell3Covariates'"}], "mark": {"type": "area", "orient": "horizontal", "stroke": "#333333", "strokeWidth": 1.8, "strokeJoin": "round"}, "encoding": {"y": {"field": "RMSE", "type": "quantitative", "scale": {"domain": [1.735, 5.926], "nice": false, "zero": false}, "axis": {"values": [2,2.5,3,3.5,4,4.5,5,5.5], "title": null, "labels": false, "ticks": false, "gridWidth": {"condition": {"test": "datum.value % 1 !== 0", "value": 1}, "value": 2}}}, "x": {"field": "lo", "type": "quantitative", "stack": null, "scale": {"domain": [-0.497, 0.6], "nice": false, "zero": false}, "axis": {"values": [0], "title": null, "labels": false, "ticks": false, "gridWidth": 2}}, "x2": {"field": "hi"}, "color": {"field": "version", "type": "nominal", "scale": {"domain": ["123","124","134","234"], "range": ["#F8766D","#7CAE00","#00BFC4","#C77CFF"]}, "title": "version"}}}
 ]}
]},
{"spacing": 0, "vconcat": [
 {"width": 1022, "height": 41, "data": {"name": "strips"}, "transform": [{"filter": "datum.version === '234'"}], "mark": {"type": "text", "fontSize": 21, "fontWeight": "bold", "color": "#1A1A1A"}, "encoding": {"text": {"field": "version", "type": "nominal"}}, "view": {"fill": "#D9D9D9", "stroke": null}},
 {"spacing": 0, "bounds": "flush", "hconcat": [
  {"width": 181, "height": 159, "transform": [{"filter": "datum.version === '234' && datum.Cell === 'Cell1'"}], "mark": {"type": "area", "orient": "horizontal", "stroke": "#333333", "strokeWidth": 1.8, "strokeJoin": "round"}, "encoding": {"y": {"field": "RMSE", "type": "quantitative", "scale": {"domain": [1.735, 5.926], "nice": false, "zero": false}, "axis": {"values": [2,2.5,3,3.5,4,4.5,5,5.5], "title": null, "format": ".0f", "labelExpr": "datum.value % 1 === 0 ? datum.label : ''", "labelPadding": 4, "tickOpacity": {"condition": {"test": "datum.value % 1 !== 0", "value": 0}, "value": 1}, "gridWidth": {"condition": {"test": "datum.value % 1 !== 0", "value": 1}, "value": 2}}}, "x": {"field": "lo", "type": "quantitative", "stack": null, "scale": {"domain": [-0.6, 0.497], "nice": false, "zero": false}, "axis": {"values": [0], "title": null, "labelExpr": "'Cell1'", "labelPadding": 0, "gridWidth": 2}}, "x2": {"field": "hi"}, "color": {"field": "version", "type": "nominal", "scale": {"domain": ["123","124","134","234"], "range": ["#F8766D","#7CAE00","#00BFC4","#C77CFF"]}, "title": "version"}}},
  {"width": 165, "height": 159, "transform": [{"filter": "datum.version === '234' && datum.Cell === 'Cell2'"}], "mark": {"type": "area", "orient": "horizontal", "stroke": "#333333", "strokeWidth": 1.8, "strokeJoin": "round"}, "encoding": {"y": {"field": "RMSE", "type": "quantitative", "scale": {"domain": [1.735, 5.926], "nice": false, "zero": false}, "axis": {"values": [2,2.5,3,3.5,4,4.5,5,5.5], "title": null, "labels": false, "ticks": false, "gridWidth": {"condition": {"test": "datum.value % 1 !== 0", "value": 1}, "value": 2}}}, "x": {"field": "lo", "type": "quantitative", "stack": null, "scale": {"domain": [-0.5, 0.5], "nice": false, "zero": false}, "axis": {"values": [0], "title": null, "labelExpr": "'Cell2'", "labelPadding": 0, "gridWidth": 2}}, "x2": {"field": "hi"}, "color": {"field": "version", "type": "nominal", "scale": {"domain": ["123","124","134","234"], "range": ["#F8766D","#7CAE00","#00BFC4","#C77CFF"]}, "title": "version"}}},
  {"width": 165, "height": 159, "transform": [{"filter": "datum.version === '234' && datum.Cell === 'Cell2Kurz12'"}], "mark": {"type": "area", "orient": "horizontal", "stroke": "#333333", "strokeWidth": 1.8, "strokeJoin": "round"}, "encoding": {"y": {"field": "RMSE", "type": "quantitative", "scale": {"domain": [1.735, 5.926], "nice": false, "zero": false}, "axis": {"values": [2,2.5,3,3.5,4,4.5,5,5.5], "title": null, "labels": false, "ticks": false, "gridWidth": {"condition": {"test": "datum.value % 1 !== 0", "value": 1}, "value": 2}}}, "x": {"field": "lo", "type": "quantitative", "stack": null, "scale": {"domain": [-0.5, 0.5], "nice": false, "zero": false}, "axis": {"values": [0], "title": "Cell", "titleAnchor": "end", "titleAlign": "center", "titlePadding": 4, "labelExpr": "'Cell2Kurz12'", "labelPadding": 0, "gridWidth": 2}}, "x2": {"field": "hi"}, "color": {"field": "version", "type": "nominal", "scale": {"domain": ["123","124","134","234"], "range": ["#F8766D","#7CAE00","#00BFC4","#C77CFF"]}, "title": "version"}}},
  {"width": 165, "height": 159, "transform": [{"filter": "datum.version === '234' && datum.Cell === 'Cell2Kurz9'"}], "mark": {"type": "area", "orient": "horizontal", "stroke": "#333333", "strokeWidth": 1.8, "strokeJoin": "round"}, "encoding": {"y": {"field": "RMSE", "type": "quantitative", "scale": {"domain": [1.735, 5.926], "nice": false, "zero": false}, "axis": {"values": [2,2.5,3,3.5,4,4.5,5,5.5], "title": null, "labels": false, "ticks": false, "gridWidth": {"condition": {"test": "datum.value % 1 !== 0", "value": 1}, "value": 2}}}, "x": {"field": "lo", "type": "quantitative", "stack": null, "scale": {"domain": [-0.5, 0.5], "nice": false, "zero": false}, "axis": {"values": [0], "title": null, "labelExpr": "'Cell2Kurz9'", "labelPadding": 0, "gridWidth": 2}}, "x2": {"field": "hi"}, "color": {"field": "version", "type": "nominal", "scale": {"domain": ["123","124","134","234"], "range": ["#F8766D","#7CAE00","#00BFC4","#C77CFF"]}, "title": "version"}}},
  {"width": 165, "height": 159, "transform": [{"filter": "datum.version === '234' && datum.Cell === 'Cell3'"}], "mark": {"type": "area", "orient": "horizontal", "stroke": "#333333", "strokeWidth": 1.8, "strokeJoin": "round"}, "encoding": {"y": {"field": "RMSE", "type": "quantitative", "scale": {"domain": [1.735, 5.926], "nice": false, "zero": false}, "axis": {"values": [2,2.5,3,3.5,4,4.5,5,5.5], "title": null, "labels": false, "ticks": false, "gridWidth": {"condition": {"test": "datum.value % 1 !== 0", "value": 1}, "value": 2}}}, "x": {"field": "lo", "type": "quantitative", "stack": null, "scale": {"domain": [-0.5, 0.5], "nice": false, "zero": false}, "axis": {"values": [0], "title": null, "labelExpr": "'Cell3'", "labelPadding": 0, "gridWidth": 2}}, "x2": {"field": "hi"}, "color": {"field": "version", "type": "nominal", "scale": {"domain": ["123","124","134","234"], "range": ["#F8766D","#7CAE00","#00BFC4","#C77CFF"]}, "title": "version"}}},
  {"width": 181, "height": 159, "transform": [{"filter": "datum.version === '234' && datum.Cell === 'Cell3Covariates'"}], "mark": {"type": "area", "orient": "horizontal", "stroke": "#333333", "strokeWidth": 1.8, "strokeJoin": "round"}, "encoding": {"y": {"field": "RMSE", "type": "quantitative", "scale": {"domain": [1.735, 5.926], "nice": false, "zero": false}, "axis": {"values": [2,2.5,3,3.5,4,4.5,5,5.5], "title": null, "labels": false, "ticks": false, "gridWidth": {"condition": {"test": "datum.value % 1 !== 0", "value": 1}, "value": 2}}}, "x": {"field": "lo", "type": "quantitative", "stack": null, "scale": {"domain": [-0.497, 0.6], "nice": false, "zero": false}, "axis": {"values": [0], "title": null, "labelExpr": "'Cell3Covariates'", "labelPadding": 0, "gridWidth": 2}}, "x2": {"field": "hi"}, "color": {"field": "version", "type": "nominal", "scale": {"domain": ["123","124","134","234"], "range": ["#F8766D","#7CAE00","#00BFC4","#C77CFF"]}, "title": "version"}}}
 ]}
]}
],
"config": {
 "font": "Liberation Sans",
 "view": {"fill": "#EBEBEB", "stroke": null},
 "axis": {"gridColor": "#FFFFFF", "gridOpacity": 1, "domain": false, "tickColor": "#333333", "tickSize": 5, "tickWidth": 1.5, "labelColor": "#4D4D4D", "labelFont": "Liberation Sans", "labelFontSize": 24, "titleFont": "Liberation Sans", "titleFontSize": 28, "titleFontWeight": "bold", "titleColor": "#000000"},
 "legend": {"orient": "none", "legendX": 1057, "legendY": 348, "padding": 0, "titleFont": "Liberation Sans", "titleFontSize": 28, "titleFontWeight": "bold", "titleColor": "#000000", "titlePadding": 11, "labelFont": "Liberation Sans", "labelFontSize": 17.5, "labelColor": "#000000", "labelOffset": 17, "symbolType": "square", "symbolSize": 1050, "symbolStrokeColor": "#333333", "symbolStrokeWidth": 1.5, "symbolOpacity": 1, "rowPadding": -4},
 "title": {"font": "Liberation Sans"}
}
}
